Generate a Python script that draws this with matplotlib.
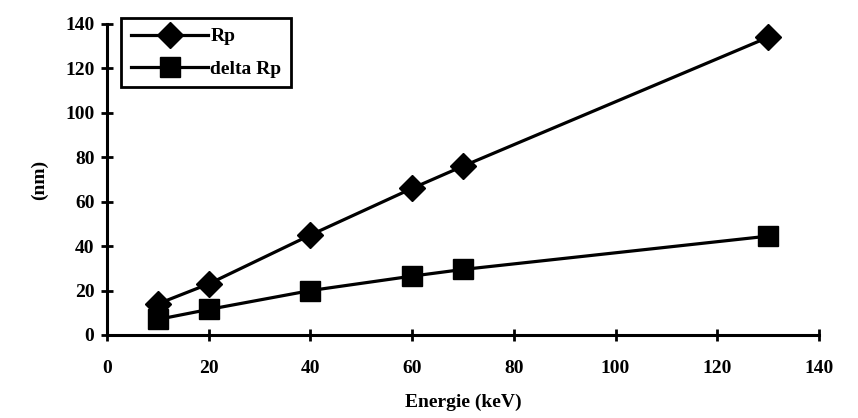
import matplotlib.pyplot as plt

# energy (keV) and ranges (nm)
energie  = [10, 20, 40, 60, 70, 130]
rp       = [14, 23, 45, 66, 76, 134]
delta_rp = [7, 11.5, 20, 26.5, 29.5, 44.5]

x_ticks = [0, 20, 40, 60, 80, 100, 120, 140]
y_ticks = [0, 20, 40, 60, 80, 100, 120, 140]

plt.rcParams["font.family"] = ["Liberation Serif", "DejaVu Serif"]
plt.rcParams["font.weight"] = "bold"

fig = plt.figure(figsize=(8.58, 4.18), dpi=100)
ax = fig.add_axes([0.1247, 0.1986, 0.8298, 0.744])

ax.plot(energie, rp, color="black", linewidth=2.3, marker="D",
        markersize=13, markerfacecolor="black", label="Rp")
ax.plot(energie, delta_rp, color="black", linewidth=2.3, marker="s",
        markersize=15, markerfacecolor="black", label="delta Rp")

ax.set_xlim(0, 140)
ax.set_ylim(0, 140)
ax.set_xticks(x_ticks)
ax.set_yticks(y_ticks)
ax.tick_params(direction="inout", length=8, width=2, labelsize=14, pad=5)
ax.tick_params(axis="x", pad=14)

for side in ("top", "right"):
    ax.spines[side].set_visible(False)
for side in ("left", "bottom"):
    ax.spines[side].set_linewidth(2.2)

ax.set_xlabel("Energie (keV)", fontsize=14, fontweight="bold", labelpad=12)
ax.set_ylabel("(nm)", fontsize=14, fontweight="bold", labelpad=12)

leg = ax.legend(loc="upper left", bbox_to_anchor=(0.006, 1.05),
                fontsize=14, handlelength=4.0, handletextpad=0.1,
                borderpad=0.5, labelspacing=0.75, fancybox=False,
                framealpha=1, edgecolor="black")
leg.get_frame().set_linewidth(2)

fig.savefig("out.png", dpi=100)
